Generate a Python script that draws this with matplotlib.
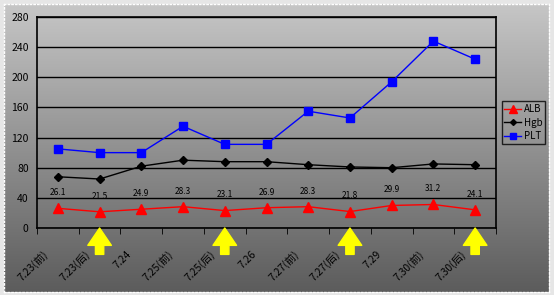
import matplotlib
matplotlib.use('Agg')
import matplotlib.pyplot as plt
import matplotlib.transforms as mtransforms
import numpy as np

plt.rcParams['font.family'] = ['Noto Sans CJK SC', 'DejaVu Sans']

# category labels (dates, 前 = before, 后 = after)
dates = ['7.23(前)', '7.23(后)', '7.24', '7.25(前)', '7.25(后)', '7.26',
         '7.27(前)', '7.27(后)', '7.29', '7.30(前)', '7.30(后)']
alb = [26.1, 21.5, 24.9, 28.3, 23.1, 26.9, 28.3, 21.8, 29.9, 31.2, 24.1]
hgb = [68, 65, 82, 90, 88, 88, 84, 81, 80, 85, 84]
plt_vals = [105, 100, 100, 135, 111, 111, 155, 146, 194, 248, 224]
arrow_at = ['7.23(后)', '7.25(后)', '7.27(后)', '7.30(后)']

fig = plt.figure(figsize=(5.54, 2.95), dpi=100)
fig.patch.set_facecolor('#e6e6e6')

# gradient background
bg = fig.add_axes([4 / 554, 3 / 295, 545 / 554, 288 / 295])
grad = np.linspace(0, 1, 256).reshape(-1, 1)
bg.imshow(grad, aspect='auto', cmap=matplotlib.colors.LinearSegmentedColormap.from_list(
    'g', ['#c6c6c6', '#5c5c5c']), extent=[0, 1, 0, 1], origin='upper')
bg.set_xlim(0, 1)
bg.set_ylim(0, 1)
for s in bg.spines.values():
    s.set_color('white')
    s.set_linestyle(':')
    s.set_linewidth(1)
bg.set_xticks([])
bg.set_yticks([])

ax = fig.add_axes([37 / 554, 1 - 228 / 295, 459 / 554, 211 / 295])
ax.set_facecolor('none')
x = np.arange(len(dates))

ax.plot(x, alb, color='red', marker='^', markersize=7, linewidth=1, label='ALB', zorder=3)
ax.plot(x, hgb, color='black', marker='D', markersize=4, linewidth=1, label='Hgb', zorder=3)
ax.plot(x, plt_vals, color='blue', marker='s', markersize=6, linewidth=1, label='PLT', zorder=3)

for xi, v in zip(x, alb):
    ax.annotate(f'{v:.1f}', (xi, v), xytext=(0, 8), textcoords='offset points',
                ha='center', va='bottom', fontsize=6, color='black')

ax.set_xlim(-0.5, len(dates) - 0.5)
ax.set_ylim(0, 280)
ax.set_yticks(range(0, 281, 40))
ax.yaxis.grid(True, color='black', linewidth=1)
ax.set_axisbelow(True)
ax.tick_params(axis='y', length=0, labelsize=7.5, pad=6)
ax.set_xticks(x)
ax.set_xticklabels(dates, rotation=45, ha='right', va='top', rotation_mode='anchor', fontsize=7.5)
ax.tick_params(axis='x', length=0, pad=15)
shift = mtransforms.ScaledTranslation(-11 / 72, 0, fig.dpi_scale_trans)
for lbl in ax.get_xticklabels():
    lbl.set_transform(lbl.get_transform() + shift)
ax.set_xticks(np.arange(-0.5, len(dates)), minor=True)
ax.tick_params(axis='x', which='minor', length=4, direction='out', color='black')
for s in ax.spines.values():
    s.set_color('black')
    s.set_linewidth(1.2)

for d in arrow_at:
    i = dates.index(d)
    ax.annotate('', xy=(i, 0), xycoords=('data', 'axes fraction'),
                xytext=(0, -19), textcoords='offset points',
                arrowprops=dict(arrowstyle='simple,head_width=1.7,head_length=1.25,tail_width=0.6',
                                color='#ffff00', shrinkA=0, shrinkB=0),
                annotation_clip=False, zorder=5)

leg = ax.legend(loc='center left', bbox_to_anchor=(1.012, 0.5), fontsize=7,
                frameon=True, fancybox=False, edgecolor='black', handlelength=1.7,
                borderpad=0.3, labelspacing=0.35, handletextpad=0.3, markerscale=0.75,
                borderaxespad=0)
leg.get_frame().set_facecolor('none')
leg.get_frame().set_linewidth(1)

fig.savefig('out.png', dpi=100)
